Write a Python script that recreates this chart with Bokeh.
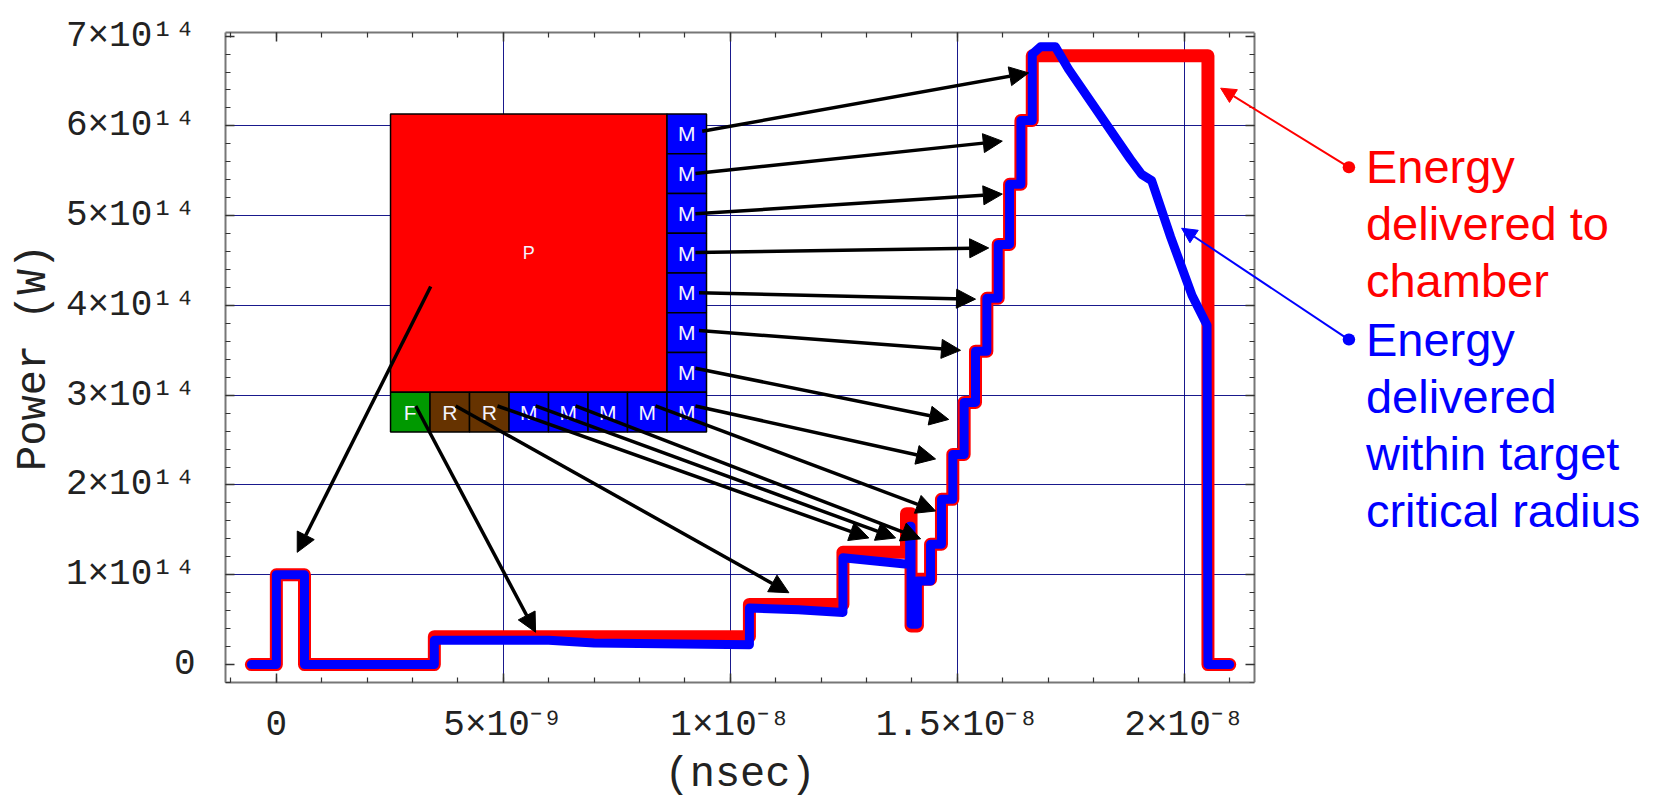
import numpy as np
from bokeh.plotting import figure
from bokeh.models import Range1d, FixedTicker, LinearAxis, Arrow, NormalHead, Label, Title
from bokeh.core.properties import value
from bokeh.embed import file_html
from bokeh.resources import INLINE

# ---------------- data (time in ns, power in units of 1e14 W) ----------------
chamber_t = [-0.55, 0.0, 0.0, 0.62, 0.62, 3.48, 3.48, 10.42, 10.42, 12.48, 12.48,
             13.88, 13.88, 13.98, 13.98, 14.12, 14.12, 14.41, 14.41, 14.65, 14.65,
             14.90, 14.90, 15.15, 15.15, 15.40, 15.40, 15.65, 15.65, 15.90, 15.90,
             16.15, 16.15, 16.40, 16.40, 16.65, 16.65, 20.52, 20.52, 21.0]
chamber_p = [0.0, 0.0, 1.0, 1.0, 0.0, 0.0, 0.31, 0.31, 0.67, 0.67, 1.25,
             1.25, 1.68, 1.68, 0.43, 0.43, 0.95, 0.95, 1.34, 1.34, 1.84,
             1.84, 2.34, 2.34, 2.92, 2.92, 3.49, 3.49, 4.08, 4.08, 4.68,
             4.68, 5.35, 5.35, 6.06, 6.06, 6.78, 6.78, 0.0, 0.0]

target_t = [-0.55, 0.0, 0.0, 0.62, 0.62, 3.48, 3.48, 6.0, 7.0, 10.42, 10.42, 11.5,
            12.48, 12.48, 13.85, 13.95, 13.95, 13.98, 13.98, 14.12, 14.12, 14.41,
            14.41, 14.65, 14.65, 14.90, 14.90, 15.15, 15.15, 15.40, 15.40, 15.65,
            15.65, 15.90, 15.90, 16.15, 16.15, 16.40, 16.40, 16.65, 16.65, 16.83,
            17.16, 17.45, 18.81, 19.06, 19.28, 19.70, 20.17, 20.50, 20.52, 21.0]
target_p = [0.0, 0.0, 1.0, 1.0, 0.0, 0.0, 0.27, 0.27, 0.24, 0.22, 0.63, 0.61,
            0.58, 1.19, 1.12, 1.12, 1.54, 1.54, 0.45, 0.45, 0.93, 0.93,
            1.34, 1.34, 1.84, 1.84, 2.34, 2.34, 2.92, 2.92, 3.49, 3.49,
            4.08, 4.08, 4.68, 4.68, 5.35, 5.35, 6.06, 6.06, 6.80, 6.88,
            6.88, 6.63, 5.63, 5.46, 5.39, 4.76, 4.11, 3.78, 0.0, 0.0]

x_ticks = [0, 5, 10, 15, 20]
x_tick_labels = ["0", "5×10⁻⁹", "1×10⁻⁸", "1.5×10⁻⁸", "2×10⁻⁸"]
x_minor = list(range(-1, 22))
y_ticks = [0, 1, 2, 3, 4, 5, 6, 7]
y_tick_labels = ["0", "1×10¹⁴", "2×10¹⁴", "3×10¹⁴", "4×10¹⁴", "5×10¹⁴", "6×10¹⁴", "7×10¹⁴"]
y_minor = [round(0.2 * i, 2) for i in range(-1, 36)]
x_grid = [5, 10, 15, 20]
y_grid = [1, 2, 3, 4, 5, 6]
x_title = "(nsec)"
y_title = "Power (W)"

# plot box (data limits of the axes box)
X_MIN, X_MAX = -1.12, 21.55
Y_MIN, Y_MAX = -0.2, 7.04

# pulse-format diagram (8 x 8 cells): P block, M column, bottom row
side_labels = ["M", "M", "M", "M", "M", "M", "M"]
bottom_labels = ["F", "R", "R", "M", "M", "M", "M", "M"]
cell_colors = {"P": "#FF0000", "M": "#0000FF", "F": "#009900", "R": "#663300"}

# arrows: (start time, start power, end time, end power)
arrows = [
    (3.40, 4.21, 0.46, 1.25),
    (3.07, 2.88, 5.71, 0.36),
    (3.95, 2.88, 11.29, 0.80),
    (4.87, 2.88, 13.05, 1.41),
    (5.71, 2.88, 13.64, 1.41),
    (6.59, 2.88, 14.19, 1.40),
    (8.35, 2.88, 14.52, 1.71),
    (9.23, 2.88, 14.52, 2.29),
    (9.23, 3.30, 14.81, 2.73),
    (9.31, 3.72, 15.07, 3.50),
    (9.31, 4.14, 15.40, 4.07),
    (9.23, 4.59, 15.69, 4.64),
    (9.23, 5.02, 15.99, 5.24),
    (9.23, 5.47, 15.99, 5.83),
    (9.38, 5.94, 16.57, 6.59),
]

legend_red = ["Energy", "delivered to", "chamber"]
legend_blue = ["Energy", "delivered", "within target", "critical radius"]

# ---------------- figure ----------------
MONO = "Liberation Mono"
SANS = "Liberation Sans"

W, H = 1657, 799
ML, MR, MT, MB = 225, 12, 32, 117
px_per_ns = 45.4
x_end = X_MIN + (W - ML - MR) / px_per_ns

p = figure(width=W, height=H, x_range=Range1d(X_MIN, x_end), y_range=Range1d(Y_MIN, Y_MAX),
           output_backend="svg", toolbar_location=None,
           min_border_left=ML, min_border_right=MR, min_border_top=MT, min_border_bottom=MB)
p.background_fill_color = "white"
p.border_fill_color = "white"
p.outline_line_color = None

def style_axis(ax, ticks, minor, bounds):
    ax.ticker = FixedTicker(ticks=ticks, minor_ticks=minor)
    ax.bounds = bounds
    ax.axis_line_color = "#777777"
    ax.axis_line_width = 2
    ax.major_tick_in = 9
    ax.major_tick_out = 0
    ax.minor_tick_in = 5
    ax.minor_tick_out = 0
    ax.major_tick_line_color = "#333333"
    ax.major_tick_line_width = 1.5
    ax.minor_tick_line_color = "#333333"
    ax.minor_tick_line_width = 1.2
    ax.major_label_text_font = MONO
    ax.major_label_text_color = "#222222"
    ax.axis_label_text_font = MONO
    ax.axis_label_text_font_style = "normal"
    ax.axis_label_text_color = "#222222"

def hide_labels(ax):
    ax.major_label_text_color = None
    ax.major_label_text_alpha = 0
    ax.major_label_text_font_size = "1px"
    ax.major_label_standoff = 0

xa = p.xaxis[0]
style_axis(xa, x_ticks, x_minor, (X_MIN, X_MAX))
xa.major_label_overrides = {t: s for t, s in zip(x_ticks, x_tick_labels)}
xa.major_label_text_font_size = "36px"
xa.major_label_standoff = 22

# x axis title, centred under the axes box (not under the whole frame)
box_center_px = ML + ((X_MAX - X_MIN) / 2) * px_per_ns
title_w = 0.6 * 42 * len(x_title)
p.add_layout(Title(text=x_title, align="left", offset=box_center_px - ML - title_w / 2,
                   text_font=MONO, text_font_size="42px", text_font_style="normal",
                   text_color="#222222", standoff=0), "below")

ya = p.yaxis[0]
style_axis(ya, y_ticks, y_minor, (Y_MIN, Y_MAX))
ya.major_label_overrides = {t: s for t, s in zip(y_ticks, y_tick_labels)}
ya.major_label_text_font_size = "36px"
ya.major_label_standoff = 30
ya.axis_label = y_title
ya.axis_label_text_font_size = "42px"
ya.axis_label_standoff = 5

top_ax = LinearAxis()
style_axis(top_ax, x_ticks, x_minor, (X_MIN, X_MAX))
hide_labels(top_ax)
p.add_layout(top_ax, "above")

right_ax = LinearAxis(fixed_location=X_MAX)
style_axis(right_ax, y_ticks, y_minor, (Y_MIN, Y_MAX))
hide_labels(right_ax)
p.add_layout(right_ax, "right")

# grid lines limited to the axes box
p.xgrid.ticker = FixedTicker(ticks=x_grid)
p.ygrid.ticker = FixedTicker(ticks=y_grid)
xg, yg = p.xgrid[0], p.ygrid[0]
for g in (xg, yg):
    g.grid_line_color = "#000080"
    g.grid_line_width = 1
    g.grid_line_alpha = 0.9
if "cross_bounds" in yg.properties():
    yg.cross_bounds = (X_MIN, X_MAX)
    xg.cross_bounds = (Y_MIN, Y_MAX)
else:
    yg.visible = False
    p.segment(x0=[X_MIN] * len(y_grid), x1=[X_MAX] * len(y_grid), y0=y_grid, y1=y_grid,
              line_color="#000080", line_width=1, line_alpha=0.9, level="underlay")

# curves
p.line(chamber_t, chamber_p, line_color="#FF0000", line_width=13, line_join="round", line_cap="round")
p.line(target_t, target_p, line_color="#0000FF", line_width=9, line_join="round", line_cap="round")

# diagram
X0, YT, CW, CH = 2.515, 6.133, 0.870, 0.4428
p.quad(left=[X0], right=[X0 + 7 * CW], top=[YT], bottom=[YT - 7 * CH],
       fill_color=cell_colors["P"], line_color="black", line_width=1.5)
p.text(x=[X0 + 3.5 * CW], y=[YT - 3.5 * CH], text=["P"], text_color="#f4f4ff",
       text_font=value(SANS), text_font_size="18px", text_align="center", text_baseline="middle")
cl, cr, ct, cb, ccol, tx, ty, tt = [], [], [], [], [], [], [], []
for i, lab in enumerate(side_labels):
    cl.append(X0 + 7 * CW); cr.append(X0 + 8 * CW)
    ct.append(YT - i * CH); cb.append(YT - (i + 1) * CH)
    ccol.append(cell_colors[lab]); tx.append(X0 + 7.5 * CW); ty.append(YT - (i + 0.5) * CH); tt.append(lab)
for j, lab in enumerate(bottom_labels):
    cl.append(X0 + j * CW); cr.append(X0 + (j + 1) * CW)
    ct.append(YT - 7 * CH); cb.append(YT - 8 * CH)
    ccol.append(cell_colors[lab]); tx.append(X0 + (j + 0.5) * CW); ty.append(YT - 7.5 * CH); tt.append(lab)
p.quad(left=cl, right=cr, top=ct, bottom=cb, fill_color=ccol, line_color="black", line_width=1.5)
p.text(x=tx, y=ty, text=tt, text_color="#f4f4ff", text_font=value(SANS), text_font_size="21px",
       text_align="center", text_baseline="middle")

for (x0, y0, x1, y1) in arrows:
    p.add_layout(Arrow(x_start=x0, y_start=y0, x_end=x1, y_end=y1, line_color="black", line_width=3.5,
                       end=NormalHead(size=19, fill_color="black", line_color="black", line_width=1)))

# right-hand annotations
def legend_block(lines, color, dot, tip, y_first):
    p.add_layout(Arrow(x_start=dot[0], y_start=dot[1], x_end=tip[0], y_end=tip[1], line_color=color,
                       line_width=2, end=NormalHead(size=15, fill_color=color, line_color=color, line_width=1)))
    p.add_layout(Arrow(x_start=dot[0], y_start=dot[1], x_end=dot[0] + 0.01, y_end=dot[1], line_color=color,
                       line_width=12, line_cap="round", end=None))
    for k, s in enumerate(lines):
        p.add_layout(Label(x=24.0, y=y_first - k * 0.635, text=s, text_color=color, text_font=SANS,
                           text_font_size="47px", text_baseline="alphabetic", text_align="left"))

legend_block(legend_red, "#FF0000", (23.62, 5.54), (20.80, 6.42), 5.55)
legend_block(legend_blue, "#0000FF", (23.62, 3.62), (19.94, 4.86), 3.62)

open("out.html", "w").write(file_html(p, INLINE))
